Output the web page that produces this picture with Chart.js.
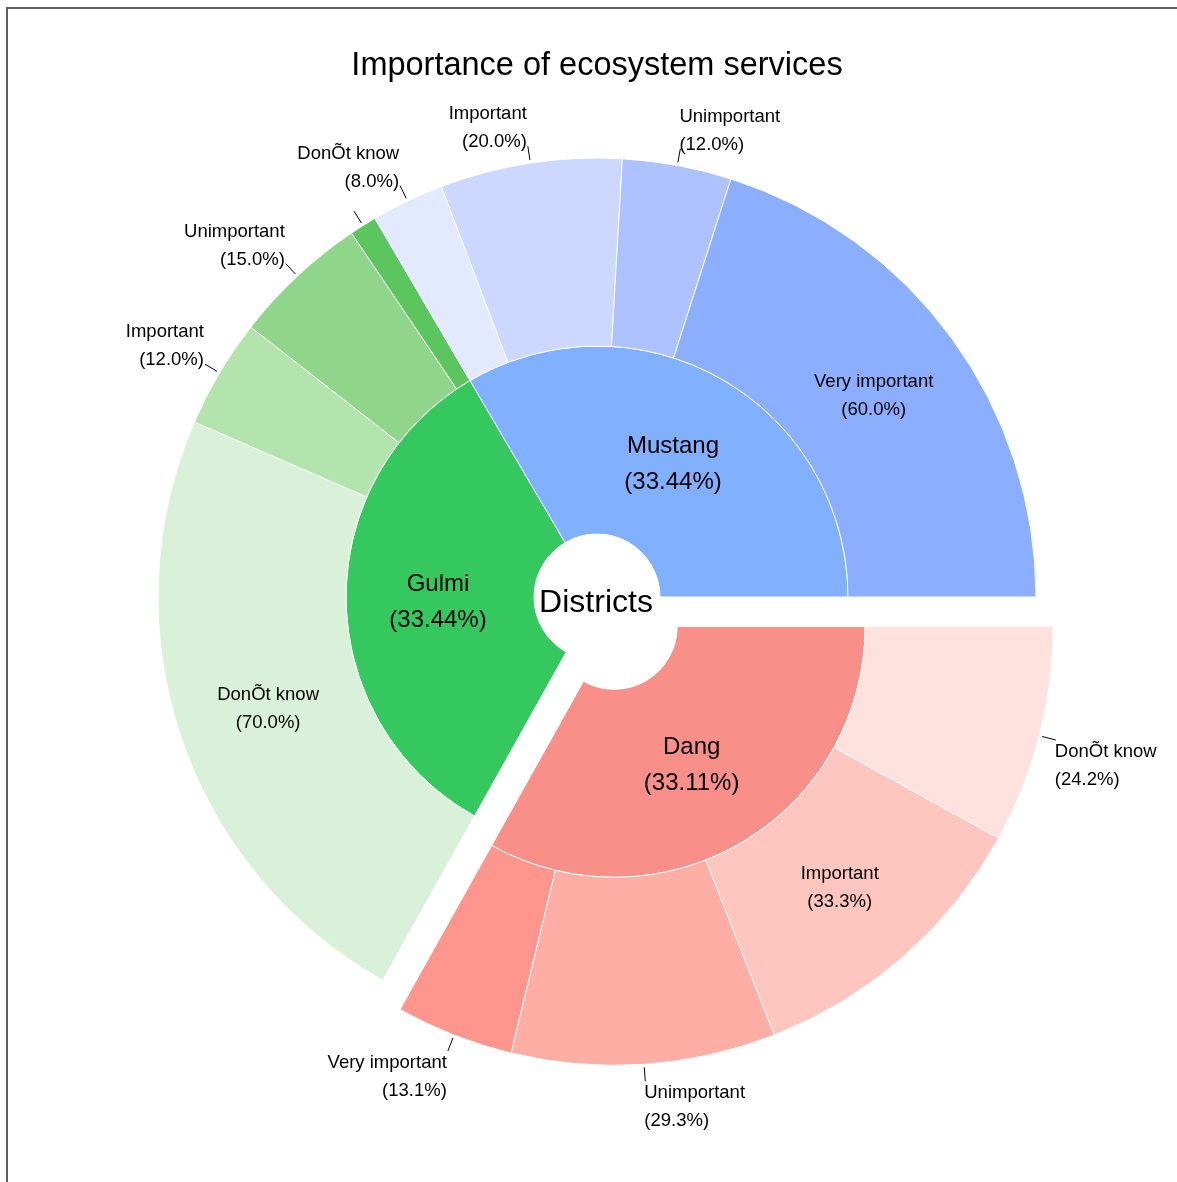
<!DOCTYPE html>
<html lang="en">
<head>
<meta charset="UTF-8">
<title>Importance of ecosystem services</title>
<script src="https://cdn.jsdelivr.net/npm/chart.js"></script>
<style>
  html, body { margin: 0; padding: 0; background: #fff; }
  #wrap { position: relative; width: 1177px; height: 1182px; overflow: hidden; }
  #frame { position: absolute; left: 6px; top: 7px; right: -10px; bottom: -10px;
           border-left: 2px solid #5f5f5f; border-top: 2px solid #5f5f5f; pointer-events: none; }
  canvas { position: absolute; left: 0; top: 0; }
</style>
</head>
<body>
<div id="wrap">
  <canvas id="districtChart" width="1177" height="1182"></canvas>
  <div id="frame"></div>
</div>
<script>
  // districts (inner ring), clockwise from 3 o'clock
  const districts = ['Dang', 'Gulmi', 'Mustang'];
  const districtShare = [33.11, 33.44, 33.44];

  // responses (outer ring) inside each district, in the same clockwise order
  const responses = ['DonÕt know', 'Important', 'Unimportant', 'Very important'];
  const dangPct = [24.2, 33.3, 29.3, 13.1];
  const gulmiPct = [70.0, 12.0, 15.0, 3.0];
  const mustangPct = [8.0, 20.0, 12.0, 60.0];

  const innerColors = ['#F88F89', '#34C85E', '#80B0FF'];
  const outerColors = [
    '#FFE1DD', '#FFC6C0', '#FFAEA6', '#FF968D',
    '#DAF1D9', '#B3E4AE', '#8FD68A', '#5CC65E',
    '#E3E9FF', '#CCD8FF', '#ADC2FF', '#8BAEFF'
  ];

  const explodedDistrict = 0;   // Dang is pulled out of the pie
  const explodeBy = 34;

  // split every district's share by its response percentages
  const groupPct = [dangPct, gulmiPct, mustangPct];
  const outerValues = [];
  const outerPct = [];
  const outerGroup = [];
  const outerLabels = [];
  groupPct.forEach((pcts, g) => {
    const sum = pcts.reduce((a, b) => a + b, 0);
    pcts.forEach((p, k) => {
      outerValues.push(districtShare[g] * p / sum);
      outerPct.push(p);
      outerGroup.push(g);
      outerLabels.push(responses[k]);
    });
  });

  const FONT = '"Liberation Sans", Arial, sans-serif';

  const sunburstLabels = {
    id: 'sunburstLabels',
    afterDatasetsUpdate(chart) {
      const inner = chart.getDatasetMeta(1).data;
      const outer = chart.getDatasetMeta(0).data;
      const ref = inner[explodedDistrict];
      const mid = (ref.startAngle + ref.endAngle) / 2;
      const ca = chart.chartArea;
      const cx = (ca.left + ca.right) / 2;
      const cy = (ca.top + ca.bottom) / 2;
      const dx = Math.cos(mid) * explodeBy;
      const dy = Math.sin(mid) * explodeBy;
      ref.x = cx + dx;
      ref.y = cy + dy;
      outer.forEach((el, i) => {
        if (outerGroup[i] === explodedDistrict) {
          el.x = cx + dx;
          el.y = cy + dy;
        }
      });
    },
    afterDatasetsDraw(chart) {
      const ctx = chart.ctx;
      const inner = chart.getDatasetMeta(1).data;
      const outer = chart.getDatasetMeta(0).data;
      const ca = chart.chartArea;
      const cx = (ca.left + ca.right) / 2;
      const cy = (ca.top + ca.bottom) / 2;
      ctx.save();
      ctx.fillStyle = '#000';
      ctx.strokeStyle = '#000';
      ctx.lineWidth = 1;

      ctx.font = '32px ' + FONT;
      ctx.textAlign = 'center';
      ctx.fillText('Districts', cx - 1, cy + 15);

      // district names in the middle of the inner ring
      ctx.font = '24px ' + FONT;
      inner.forEach((el, i) => {
        const a = (el.startAngle + el.endAngle) / 2;
        const r = (el.innerRadius + el.outerRadius) / 2;
        const x = el.x + Math.cos(a) * r;
        const y = el.y + Math.sin(a) * r;
        ctx.fillText(districts[i], x - 2, y - 18 + 10);
        ctx.fillText('(' + districtShare[i].toFixed(2) + '%)', x - 2, y + 18 + 10);
      });

      // response labels: big slices inside, the rest outside with a tick
      ctx.font = '18.5px ' + FONT;
      outer.forEach((el, i) => {
        const a = (el.startAngle + el.endAngle) / 2;
        const pct = outerPct[i];
        const line2 = '(' + pct.toFixed(1) + '%)';
        if (pct >= 30) {
          const r = (el.innerRadius + el.outerRadius) / 2;
          const x = el.x + Math.cos(a) * r;
          const y = el.y + Math.sin(a) * r;
          ctx.textAlign = 'center';
          ctx.fillText(outerLabels[i], x - 2, y - 14 + 7);
          ctx.fillText(line2, x - 2, y + 14 + 7);
          return;
        }
        const r0 = el.outerRadius + 3;
        const r1 = el.outerRadius + 17;
        const x1 = el.x + Math.cos(a) * r1;
        const y1 = el.y + Math.sin(a) * r1;
        ctx.beginPath();
        ctx.moveTo(el.x + Math.cos(a) * r0, el.y + Math.sin(a) * r0);
        ctx.lineTo(x1, y1);
        ctx.stroke();
        if (pct < 5) return;   // too thin, its text collides with the neighbour
        const right = Math.cos(a) >= 0;
        const lower = Math.sin(a) > 0;
        ctx.textAlign = right ? 'left' : 'right';
        const tx = x1 - 1;
        const first = lower ? y1 + 17 : y1 + 1 - 28;
        ctx.fillText(outerLabels[i], tx, first);
        ctx.fillText(line2, tx, first + 28);
      });
      ctx.restore();
    }
  };

  new Chart(document.getElementById('districtChart'), {
    type: 'doughnut',
    data: {
      labels: outerLabels,
      datasets: [
        {
          data: outerValues,
          backgroundColor: outerColors,
          borderColor: '#fff',
          borderWidth: 1
        },
        {
          data: districtShare,
          backgroundColor: innerColors,
          borderColor: '#fff',
          borderWidth: 1
        }
      ]
    },
    options: {
      responsive: false,
      animation: false,
      events: [],
      rotation: 90,
      radius: 439,
      cutout: '14.35%',
      layout: { padding: { left: 17, right: 0, top: 47, bottom: 73.35 } },
      plugins: {
        legend: { display: false },
        tooltip: { enabled: false },
        title: {
          display: true,
          text: 'Importance of ecosystem services',
          color: '#000',
          font: { family: FONT, size: 32.5, weight: 'normal', lineHeight: 1.18 },
          padding: 0
        }
      }
    },
    plugins: [sunburstLabels]
  });
</script>
</body>
</html>
